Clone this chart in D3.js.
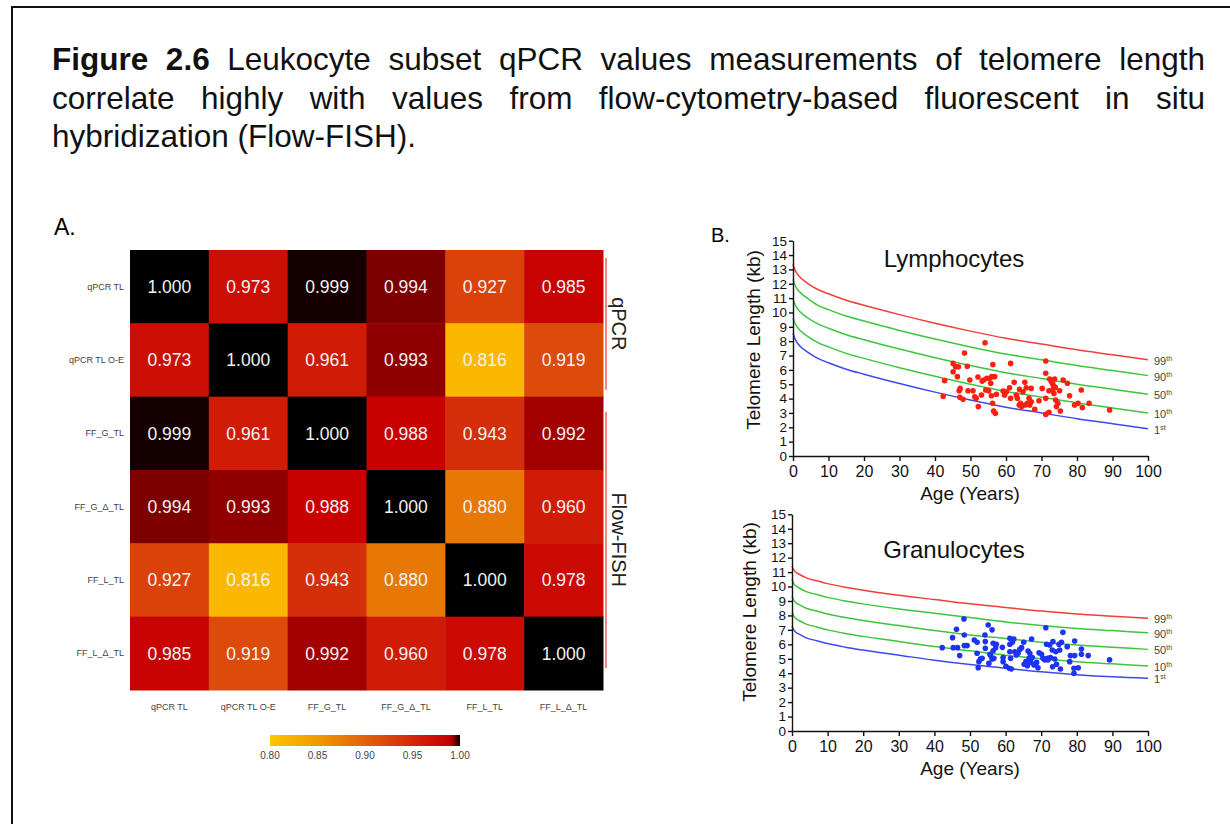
<!DOCTYPE html>
<html>
<head>
<meta charset="utf-8">
<script src="https://cdn.jsdelivr.net/npm/d3@7"></script>
<style>
body { margin: 0; background: #fff; }
svg { display: block; font-family: "Liberation Sans", Arial, Helvetica, sans-serif; }
</style>
</head>
<body>
<script>
/* caption */
var captionLines = [
  'Figure 2.6 Leukocyte subset qPCR values measurements of telomere length',
  'correlate highly with values from flow-cytometry-based fluorescent in situ',
  'hybridization (Flow-FISH).'
];

/* A. correlation heatmap */
var labels = ['qPCR TL', 'qPCR TL O-E', 'FF_G_TL', 'FF_G_Δ_TL', 'FF_L_TL', 'FF_L_Δ_TL'];
var corr = [
  [1.000, 0.973, 0.999, 0.994, 0.927, 0.985],
  [0.973, 1.000, 0.961, 0.993, 0.816, 0.919],
  [0.999, 0.961, 1.000, 0.988, 0.943, 0.992],
  [0.994, 0.993, 0.988, 1.000, 0.880, 0.960],
  [0.927, 0.816, 0.943, 0.880, 1.000, 0.978],
  [0.985, 0.919, 0.992, 0.960, 0.978, 1.000]
];
var legendTicks = [0.80, 0.85, 0.90, 0.95, 1.00];
var groupNames = ['qPCR', 'Flow-FISH'];
var groupFirst = [0, 2];
var groupLast = [1, 5];

/* B. percentile curves (age in years, telomere length in kb) */
var curveAge = [0, 0.5, 1, 2, 4, 7, 10, 15, 20, 30, 40, 50, 60, 70, 80, 90, 100];
var lymP99 = [13.35, 13.0, 12.75, 12.45, 12.05, 11.6, 11.3, 10.85, 10.5, 9.85, 9.25, 8.7, 8.2, 7.8, 7.4, 7.05, 6.7];
var lymP90 = [12.3, 11.95, 11.7, 11.4, 11.0, 10.5, 10.2, 9.75, 9.4, 8.75, 8.15, 7.6, 7.1, 6.7, 6.3, 5.95, 5.6];
var lymP50 = [10.95, 10.6, 10.35, 10.05, 9.65, 9.2, 8.9, 8.45, 8.1, 7.45, 6.85, 6.3, 5.8, 5.4, 5.0, 4.65, 4.3];
var lymP10 = [9.6, 9.3, 9.05, 8.75, 8.35, 7.9, 7.6, 7.15, 6.8, 6.15, 5.55, 5.0, 4.5, 4.1, 3.7, 3.35, 3.0];
var lymP1 = [8.55, 8.2, 7.95, 7.65, 7.25, 6.8, 6.5, 6.05, 5.7, 5.05, 4.45, 3.9, 3.4, 3.0, 2.6, 2.25, 1.9];

var graP99 = [11.4, 11.15, 11.0, 10.85, 10.6, 10.4, 10.2, 9.95, 9.75, 9.4, 9.1, 8.8, 8.55, 8.3, 8.1, 7.95, 7.8];
var graP90 = [10.5, 10.2, 10.05, 9.9, 9.65, 9.45, 9.25, 9.0, 8.8, 8.45, 8.15, 7.85, 7.55, 7.3, 7.1, 6.95, 6.8];
var graP50 = [9.35, 9.05, 8.9, 8.75, 8.5, 8.3, 8.1, 7.85, 7.65, 7.3, 6.95, 6.65, 6.4, 6.15, 5.95, 5.8, 5.65];
var graP10 = [8.25, 7.95, 7.8, 7.65, 7.4, 7.2, 7.0, 6.75, 6.55, 6.2, 5.85, 5.55, 5.25, 5.0, 4.8, 4.65, 4.5];
var graP1 = [7.25, 7.0, 6.85, 6.7, 6.45, 6.25, 6.05, 5.8, 5.6, 5.25, 4.9, 4.6, 4.35, 4.1, 3.9, 3.75, 3.65];

var pctNum = ['99', '90', '50', '10', '1'];
var pctSuffix = ['th', 'th', 'th', 'th', 'st'];

/* B. subjects */
var lymAge = [42.3, 42.7, 45.1, 45.1, 45.8, 46.3, 46.6, 46.8, 47.0, 47.1, 47.9, 48.3, 49.1, 49.3, 49.8,
  50.7, 51.2, 51.6, 52.1, 52.2, 53.1, 53.3, 53.7, 54.1, 54.3, 54.6, 55.1, 55.4, 55.7, 55.9, 56.0, 56.2,
  56.3, 56.5, 56.8, 57.0, 57.3, 59.2, 59.6, 60.1, 61.0, 61.3, 61.3, 62.3, 62.9, 63.2, 63.7, 63.8, 64.1,
  64.4, 64.8, 65.3, 65.4, 65.7, 66.0, 66.5, 66.7, 67.1, 67.1, 68.1, 69.3, 70.2, 71.2, 71.2, 71.2, 71.2,
  72.1, 72.1, 72.3, 72.8, 73.1, 73.2, 73.5, 73.5, 73.7, 73.9, 74.0, 74.2, 74.6, 75.1, 75.3, 76.1, 77.3,
  77.9, 79.3, 80.3, 81.2, 81.5, 83.4, 89.2];
var lymTL = [4.16, 5.25, 5.87, 6.45, 6.22, 5.53, 6.22, 4.55, 4.09, 4.71, 3.95, 7.17, 6.25, 4.55, 5.29,
  4.55, 4.13, 4.02, 5.50, 3.44, 4.25, 5.22, 5.29, 7.89, 4.60, 5.41, 4.55, 5.41, 5.06, 4.20, 5.53, 3.67,
  6.38, 3.13, 5.53, 2.97, 4.30, 4.53, 4.25, 4.48, 4.76, 6.45, 4.02, 5.13, 4.25, 4.02, 3.55, 4.64, 3.67,
  3.44, 4.48, 5.13, 3.55, 4.76, 3.67, 4.02, 3.55, 4.71, 3.78, 3.25, 3.85, 4.71, 6.62, 5.76, 4.02, 2.90,
  3.04, 4.55, 5.36, 5.18, 4.60, 4.99, 4.83, 4.36, 5.36, 4.78, 3.90, 3.44, 3.67, 4.55, 3.13, 5.29, 5.06,
  4.20, 3.55, 3.67, 4.60, 3.37, 3.67, 3.20];

var graAge = [42.2, 45.1, 45.3, 46.2, 46.5, 47.1, 48.3, 48.4, 48.4, 49.2, 51.2, 52.0, 52.0, 52.3, 52.5,
  52.9, 53.4, 54.2, 54.3, 54.3, 55.1, 55.3, 55.6, 55.8, 56.2, 56.2, 56.5, 56.5, 56.7, 57.2, 57.4, 59.1,
  59.3, 59.3, 60.1, 61.0, 61.2, 61.2, 61.2, 61.4, 61.6, 61.9, 62.3, 62.6, 63.0, 63.5, 64.0, 64.5, 65.1,
  65.2, 65.7, 66.1, 66.3, 66.6, 66.8, 67.1, 67.3, 67.5, 68.0, 68.7, 69.1, 69.4, 70.1, 70.5, 71.0, 71.3,
  71.5, 71.7, 71.9, 72.4, 72.6, 73.1, 73.2, 73.3, 73.8, 74.1, 74.3, 75.0, 75.2, 75.4, 75.7, 76.1, 77.3,
  78.0, 78.2, 79.4, 79.4, 79.2, 79.2, 80.4, 81.3, 81.3, 83.2, 89.2];
var graTL = [5.77, 6.46, 5.77, 7.04, 5.77, 5.22, 7.75, 6.65, 5.91, 5.91, 6.30, 6.14, 5.38, 4.38, 4.80,
  4.98, 5.03, 6.65, 6.19, 5.72, 7.34, 4.68, 5.31, 5.22, 7.00, 4.98, 6.07, 5.56, 5.03, 5.77, 6.00, 5.79,
  5.08, 4.80, 4.48, 4.34, 6.42, 6.00, 5.49, 5.03, 4.29, 6.14, 6.37, 5.49, 5.26, 5.38, 5.65, 5.77, 6.14,
  4.62, 4.80, 4.52, 5.54, 5.03, 5.38, 4.75, 6.37, 5.08, 4.57, 4.75, 4.38, 5.42, 5.31, 5.03, 4.92, 7.15,
  6.00, 5.03, 4.92, 5.95, 5.08, 5.61, 4.45, 6.19, 4.98, 5.49, 4.62, 6.00, 5.61, 4.29, 6.14, 6.83, 5.84,
  4.80, 5.22, 5.22, 6.23, 4.34, 3.99, 4.38, 5.68, 5.31, 5.22, 4.92];

var svg = d3.select('body').append('svg')
  .attr('width', 1230)
  .attr('height', 824);

/* frame */
svg.append('rect')
  .attr('x', 12).attr('y', 7)
  .attr('width', 1240).attr('height', 900)
  .attr('fill', 'none')
  .attr('stroke', '#111')
  .attr('stroke-width', 2);

/* caption, first two lines justified */
captionLines.forEach(function (line, li) {
  var words = line.split(' ');
  var t = svg.append('text')
    .attr('y', 70 + li * 38.5)
    .attr('font-size', 31.5)
    .attr('fill', '#111');
  var spans = words.map(function (w, wi) {
    return t.append('tspan')
      .attr('font-weight', (li === 0 && wi < 2) ? 'bold' : 'normal')
      .text(w);
  });
  var widths = spans.map(function (s) { return s.node().getComputedTextLength(); });
  var gap = li < 2 ? (1205 - 52 - d3.sum(widths)) / (words.length - 1) : 8.7;
  var xx = 52;
  spans.forEach(function (s, i) {
    s.attr('x', xx);
    xx += widths[i] + gap;
  });
});

/* panel letters */
svg.append('text').attr('x', 54).attr('y', 235).attr('font-size', 23).text('A.');
svg.append('text').attr('x', 711).attr('y', 242).attr('font-size', 20).text('B.');

/* ---------- A. heatmap ---------- */
var hx = d3.scaleBand().domain(labels).range([130, 603]);
var hy = d3.scaleBand().domain(labels).range([250, 690]);
var color = d3.scaleLinear()
  .domain([0.80, 0.85, 0.90, 0.95, 0.988, 0.992, 0.995, 1.0])
  .range(['#FFC600', '#F09A00', '#E2620A', '#D3260A', '#C80000', '#A30000', '#6A0000', '#000000']);

var cells = [];
corr.forEach(function (row, i) {
  row.forEach(function (v, j) { cells.push({ r: labels[i], c: labels[j], v: v }); });
});

svg.append('g').selectAll('rect')
  .data(cells).join('rect')
  .attr('x', function (d) { return hx(d.c); })
  .attr('y', function (d) { return hy(d.r); })
  .attr('width', hx.bandwidth() + 0.5)
  .attr('height', hy.bandwidth() + 0.5)
  .attr('fill', function (d) { return color(d.v); });

svg.append('g').selectAll('text')
  .data(cells).join('text')
  .attr('x', function (d) { return hx(d.c) + hx.bandwidth() / 2; })
  .attr('y', function (d) { return hy(d.r) + hy.bandwidth() / 2; })
  .attr('dy', '0.36em')
  .attr('text-anchor', 'middle')
  .attr('font-size', 17.5)
  .attr('fill', '#f2f2f2')
  .text(function (d) { return d.v.toFixed(3); });

/* row labels */
svg.append('g').selectAll('text')
  .data(labels).join('text')
  .attr('x', 124)
  .attr('y', function (d) { return hy(d) + hy.bandwidth() / 2; })
  .attr('dy', '0.35em')
  .attr('text-anchor', 'end')
  .attr('font-size', 9)
  .attr('fill', '#444')
  .text(function (d) { return d; });

/* column labels */
svg.append('g').selectAll('text')
  .data(labels).join('text')
  .attr('x', function (d) { return hx(d) + hx.bandwidth() / 2; })
  .attr('y', 710)
  .attr('text-anchor', 'middle')
  .attr('font-size', 9)
  .attr('fill', '#444')
  .text(function (d) { return d; });

/* group brackets on the right */
var gInsetTop = [8, 15], gInsetBot = [7, 22];
groupNames.forEach(function (name, k) {
  var y0 = hy(labels[groupFirst[k]]) + gInsetTop[k];
  var y1 = hy(labels[groupLast[k]]) + hy.bandwidth() - gInsetBot[k];
  svg.append('line')
    .attr('x1', 606).attr('x2', 606)
    .attr('y1', y0).attr('y2', y1)
    .attr('stroke', '#E04848')
    .attr('stroke-width', 1.3);
  svg.append('text')
    .attr('transform', 'translate(619,' + ((y0 + y1) / 2) + ') rotate(90)')
    .attr('text-anchor', 'middle')
    .attr('dy', '0.35em')
    .attr('font-size', 20)
    .attr('fill', '#222')
    .text(name);
});

/* colour bar */
var lx = d3.scaleLinear().domain([0.80, 1.00]).range([270, 460]);
var grad = svg.append('defs').append('linearGradient').attr('id', 'cbar');
d3.range(0, 1.0001, 0.02).forEach(function (f) {
  grad.append('stop')
    .attr('offset', (f * 100) + '%')
    .attr('stop-color', color(0.80 + f * 0.20));
});
svg.append('rect')
  .attr('x', lx(0.80)).attr('y', 735)
  .attr('width', lx(1.00) - lx(0.80)).attr('height', 11)
  .attr('fill', 'url(#cbar)');
svg.append('g').selectAll('text')
  .data(legendTicks).join('text')
  .attr('x', function (d) { return lx(d); })
  .attr('y', 759)
  .attr('text-anchor', 'middle')
  .attr('font-size', 10)
  .attr('fill', '#444')
  .text(function (d) { return d.toFixed(2); });

/* ---------- B. percentile plots ---------- */
var curveColors = ['#EF3F38', '#3EC53E', '#3EC53E', '#3EC53E', '#3D48F0'];

function panel(o) {
  var x = d3.scaleLinear().domain([0, 100]).range([o.left, o.right]);
  var y = d3.scaleLinear().domain([0, 15]).range([o.bottom, o.top]);
  var g = svg.append('g');
  var line = d3.line()
    .x(function (d) { return x(d[0]); })
    .y(function (d) { return y(d[1]); })
    .curve(d3.curveMonotoneX);

  o.curves.forEach(function (vals, i) {
    g.append('path')
      .datum(curveAge.map(function (a, j) { return [a, vals[j]]; }))
      .attr('d', line)
      .attr('fill', 'none')
      .attr('stroke', curveColors[i])
      .attr('stroke-width', 1.5);
    var t = g.append('text')
      .attr('x', x(100) + 6)
      .attr('y', y(vals[vals.length - 1]) + 5)
      .attr('font-size', 11)
      .attr('fill', '#444');
    t.append('tspan').text(pctNum[i]);
    t.append('tspan').attr('dy', -4).attr('font-size', 7).text(pctSuffix[i]);
  });

  g.append('g').selectAll('circle')
    .data(o.ages).join('circle')
    .attr('cx', function (d) { return x(d); })
    .attr('cy', function (d, i) { return y(o.tl[i]); })
    .attr('r', 2.8)
    .attr('fill', o.dot);

  var ya = g.append('g')
    .attr('transform', 'translate(' + o.left + ',0)')
    .call(d3.axisLeft(y).tickValues(d3.range(0, 16)).tickSize(4).tickSizeOuter(0).tickPadding(2));
  ya.selectAll('text').attr('font-size', 13.5).attr('font-family', 'inherit').attr('fill', '#111');
  var xa = g.append('g')
    .attr('transform', 'translate(0,' + o.bottom + ')')
    .call(d3.axisBottom(x).tickValues(d3.range(0, 101, 10)).tickSize(5).tickSizeOuter(0).tickPadding(5));
  xa.selectAll('text').attr('font-size', 16).attr('font-family', 'inherit').attr('fill', '#111');
  [ya, xa].forEach(function (a) {
    a.selectAll('line, path').attr('stroke', '#111').attr('stroke-width', 1.4);
  });

  g.append('text')
    .attr('x', 954).attr('y', o.titleY)
    .attr('text-anchor', 'middle')
    .attr('font-size', 24)
    .attr('fill', '#111')
    .text(o.title);
  g.append('text')
    .attr('x', 970).attr('y', o.bottom + 44)
    .attr('text-anchor', 'middle')
    .attr('font-size', 19)
    .attr('fill', '#111')
    .text('Age (Years)');
  g.append('text')
    .attr('transform', 'translate(' + o.ytX + ',' + o.ytY + ') rotate(-90)')
    .attr('text-anchor', 'middle')
    .attr('dy', '0.35em')
    .attr('font-size', 19)
    .attr('fill', '#111')
    .text('Telomere Length (kb)');
}

panel({
  left: 793, right: 1148, top: 240.7, bottom: 456,
  curves: [lymP99, lymP90, lymP50, lymP10, lymP1],
  ages: lymAge, tl: lymTL, dot: '#FF1E10',
  title: 'Lymphocytes', titleY: 267, ytX: 753, ytY: 340
});
panel({
  left: 792, right: 1148, top: 514.3, bottom: 731,
  curves: [graP99, graP90, graP50, graP10, graP1],
  ages: graAge, tl: graTL, dot: '#1E32F2',
  title: 'Granulocytes', titleY: 558, ytX: 749, ytY: 612
});
</script>
</body>
</html>
